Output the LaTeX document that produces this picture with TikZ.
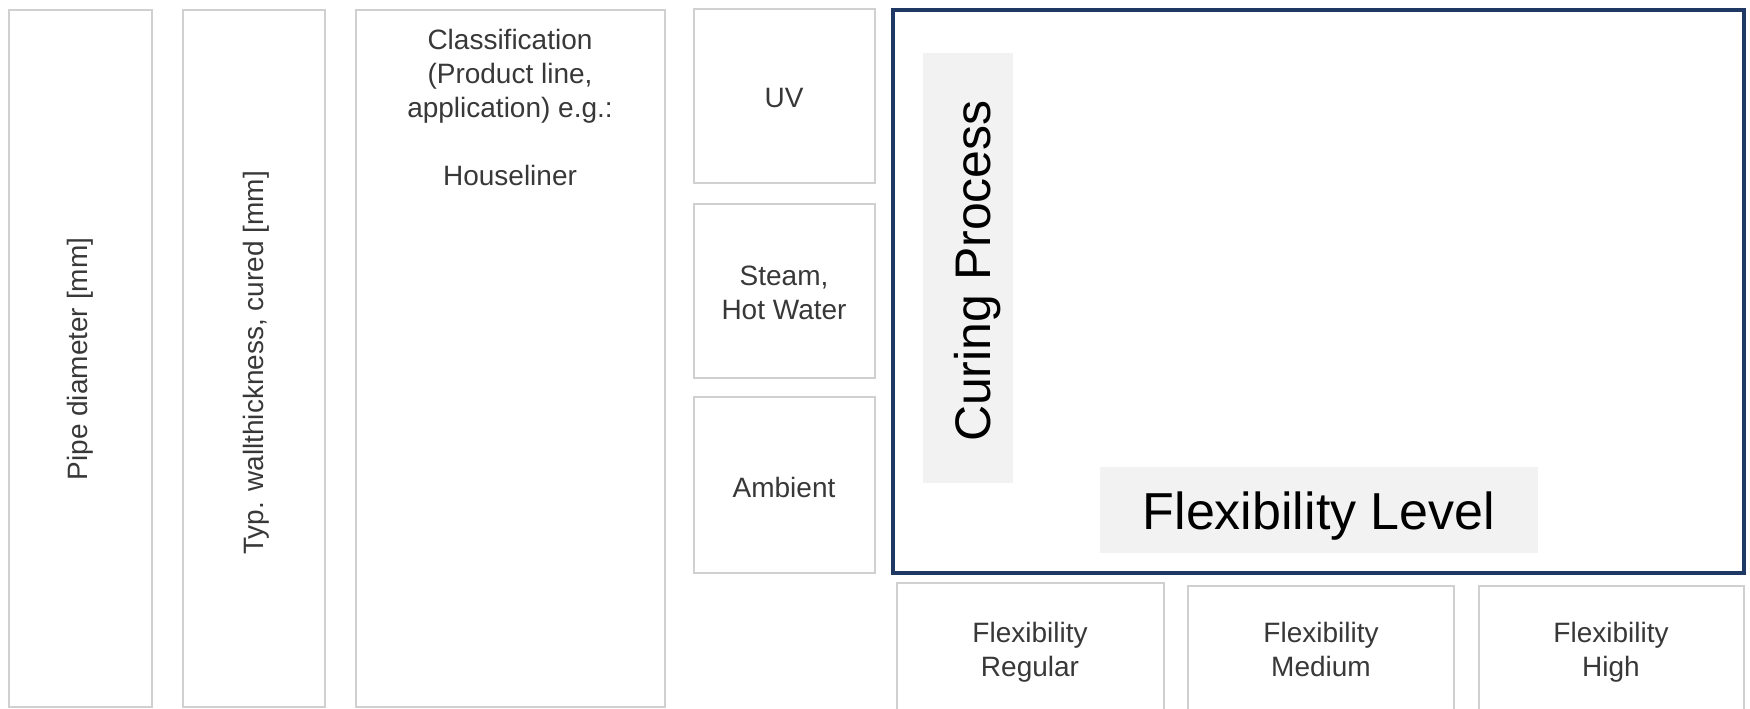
\documentclass[tikz,border=0pt]{standalone}
\usepackage{fontspec}
\setmainfont{Liberation Sans}
\definecolor{cellgray}{HTML}{D0D0D0}
\definecolor{fillgray}{HTML}{F2F2F2}
\definecolor{navy}{HTML}{1F3864}
\definecolor{txtgray}{HTML}{383838}
\tikzset{
  cell/.style={draw=cellgray, line width=0.8pt},
  lbl/.style={text=txtgray, align=center, inner sep=0pt, font=\fontsize{14}{17}\selectfont},
  title/.style={text=black, inner sep=0pt, font=\fontsize{26}{30}\selectfont}
}

\begin{document}
\begin{tikzpicture}[x=0.5pt,y=-0.5pt]
    \useasboundingbox (0,0) rectangle (1750,708);

    % left columns
    \draw[cell] (9,10) rectangle (152,707);
    \draw[cell] (183,10) rectangle (325,707);
    \draw[cell] (356,10) rectangle (665,707);
    \node[lbl, rotate=90] (pipe) at (80,359) {Pipe diameter [mm]};
    \node[lbl, rotate=90] (wall) at (256,363) {Typ. wallthickness, cured [mm]};
    \node[lbl, anchor=north] (class) at (510,29) {Classification\\(Product line,\\application) e.g.:\\[17pt]Houseliner};

    % curing process
    \draw[cell] (694,9) rectangle (875,183);
    \draw[cell] (694,204) rectangle (875,378);
    \draw[cell] (694,397) rectangle (875,573);
    \node[lbl] (uv) at (784,98) {UV};
    \node[lbl] (steam) at (784,293) {Steam,\\Hot Water};
    \node[lbl] (ambient) at (784,487) {Ambient};

    % matrix field
    \draw[navy, line width=2pt] (893,10) rectangle (1744,573);
    \fill[fillgray] (923,53) rectangle (1013,483);
    \fill[fillgray] (1100,467) rectangle (1538,553);
    \node[title, rotate=90, anchor=base, font=\fontsize{25}{30}\selectfont] (curing) at (990,271) {Curing Process};
    \node[title, anchor=base] (flexlevel) at (1319,529) {Flexibility Level};

    % flexibility levels
    \draw[cell] (897,583) rectangle (1164,715);
    \draw[cell] (1188,586) rectangle (1454,715);
    \draw[cell] (1479,586) rectangle (1744,715);
    \node[lbl, anchor=north] (regular) at (1030,622) {Flexibility\\Regular};
    \node[lbl, anchor=north] (medium) at (1321,622) {Flexibility\\Medium};
    \node[lbl, anchor=north] (high) at (1611,622) {Flexibility\\High};

\end{tikzpicture}
\end{document}
